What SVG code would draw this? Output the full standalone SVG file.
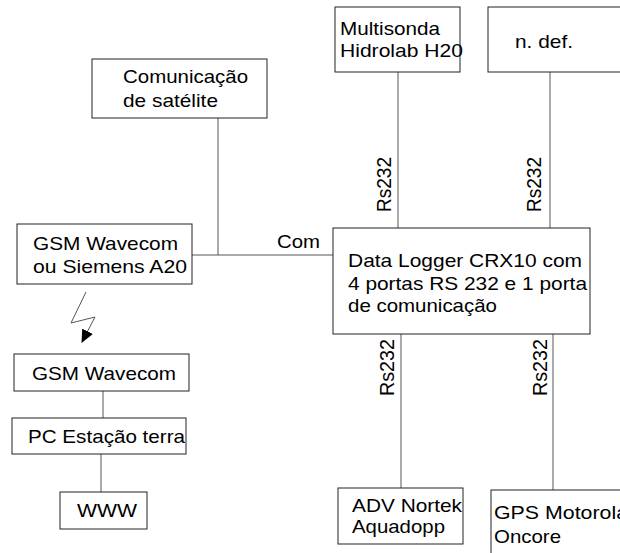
<svg xmlns="http://www.w3.org/2000/svg" width="620" height="553" viewBox="0 0 620 553">
<style>
.box{fill:#fff;stroke:#222;stroke-width:1}
.ln{fill:none;stroke:#555;stroke-width:1}
text{font-family:"Liberation Sans",Arial,sans-serif;font-size:19px;fill:#000}
.rs{font-size:21px}
</style>
<defs>
<marker id="ah" markerWidth="13" markerHeight="12" refX="12" refY="6" orient="auto" markerUnits="userSpaceOnUse">
<path d="M0,0 L13,6 L0,12 Z" fill="#000"/>
</marker>
</defs>
<rect width="620" height="553" fill="#fff"/>
<g id="connectors">
<line class="ln" x1="218" y1="118" x2="218" y2="255"/>
<line class="ln" x1="192" y1="255" x2="333" y2="255"/>
<line class="ln" x1="398" y1="72" x2="398" y2="228"/>
<line class="ln" x1="550" y1="72" x2="550" y2="228"/>
<line class="ln" x1="401" y1="334" x2="401" y2="488"/>
<line class="ln" x1="553" y1="334" x2="553" y2="490"/>
<line class="ln" x1="103" y1="391" x2="103" y2="418"/>
<line class="ln" x1="101" y1="454" x2="101" y2="492"/>
<polyline class="ln" points="86,292 71,323 95,317 82,342" marker-end="url(#ah)"/>
<text x="277" y="248" textLength="43" lengthAdjust="spacingAndGlyphs">Com</text>
<text class="rs" transform="translate(391,212) rotate(-90)" textLength="55" lengthAdjust="spacingAndGlyphs">Rs232</text>
<text class="rs" transform="translate(541,212) rotate(-90)" textLength="55" lengthAdjust="spacingAndGlyphs">Rs232</text>
<text class="rs" transform="translate(394,396) rotate(-90)" textLength="57" lengthAdjust="spacingAndGlyphs">Rs232</text>
<text class="rs" transform="translate(547,396) rotate(-90)" textLength="57" lengthAdjust="spacingAndGlyphs">Rs232</text>
</g>
<g id="satelite">
<rect class="box" x="92" y="59" width="175" height="59"/>
<text x="123" y="83" textLength="125" lengthAdjust="spacingAndGlyphs">Comunicação</text>
<text x="123" y="107" textLength="95" lengthAdjust="spacingAndGlyphs">de satélite</text>
</g>
<g id="gsm1">
<rect class="box" x="17" y="224" width="175" height="60"/>
<text x="33" y="250" textLength="145" lengthAdjust="spacingAndGlyphs">GSM Wavecom</text>
<text x="33" y="273" textLength="154" lengthAdjust="spacingAndGlyphs">ou Siemens A20</text>
</g>
<g id="multisonda">
<rect class="box" x="335" y="7" width="125" height="65"/>
<text x="340" y="35" textLength="100" lengthAdjust="spacingAndGlyphs">Multisonda</text>
<text x="340" y="57" textLength="123" lengthAdjust="spacingAndGlyphs">Hidrolab H20</text>
</g>
<g id="ndef">
<rect class="box" x="488" y="7" width="140" height="65"/>
<text x="515" y="48" textLength="58" lengthAdjust="spacingAndGlyphs">n. def.</text>
</g>
<g id="datalogger">
<rect class="box" x="333" y="228" width="257" height="106"/>
<text x="348" y="267" textLength="234" lengthAdjust="spacingAndGlyphs">Data Logger CRX10 com</text>
<text x="348" y="290" textLength="239" lengthAdjust="spacingAndGlyphs">4 portas RS 232 e 1 porta</text>
<text x="348" y="312" textLength="149" lengthAdjust="spacingAndGlyphs">de comunicação</text>
</g>
<g id="adv">
<rect class="box" x="338" y="488" width="125" height="56"/>
<text x="352" y="512" textLength="110" lengthAdjust="spacingAndGlyphs">ADV Nortek</text>
<text x="352" y="533" textLength="93" lengthAdjust="spacingAndGlyphs">Aquadopp</text>
</g>
<g id="gps">
<rect class="box" x="491" y="490" width="140" height="70"/>
<text x="494" y="519" textLength="134" lengthAdjust="spacingAndGlyphs">GPS Motorola</text>
<text x="494" y="543" textLength="67" lengthAdjust="spacingAndGlyphs">Oncore</text>
</g>
<g id="gsm2">
<rect class="box" x="14" y="354" width="175" height="37"/>
<text x="32" y="380" textLength="144" lengthAdjust="spacingAndGlyphs">GSM Wavecom</text>
</g>
<g id="pc">
<rect class="box" x="12" y="418" width="174" height="36"/>
<text x="28" y="443" textLength="157" lengthAdjust="spacingAndGlyphs">PC Estação terra</text>
</g>
<g id="www">
<rect class="box" x="60" y="492" width="87" height="37"/>
<text x="77" y="517" textLength="60" lengthAdjust="spacingAndGlyphs">WWW</text>
</g>
</svg>
